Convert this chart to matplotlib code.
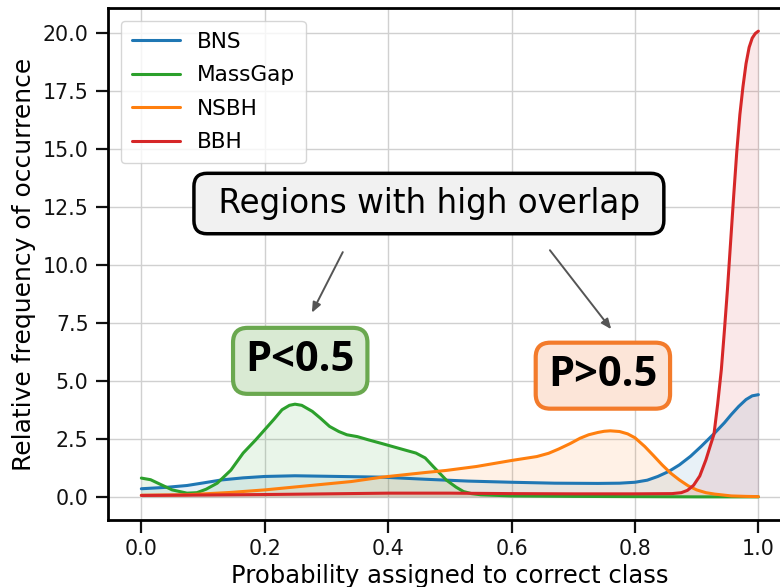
import matplotlib
matplotlib.use("Agg")
import matplotlib.pyplot as plt

# ---- data ----
bns_x = [0.0, 0.04, 0.074, 0.1, 0.13, 0.165, 0.2, 0.249, 0.32, 0.39, 0.46, 0.53, 0.6, 0.67, 0.74, 0.775,
         0.8, 0.82, 0.837, 0.855, 0.872, 0.89, 0.907, 0.929, 0.945, 0.956, 0.968, 0.98, 0.99, 1.0]
bns_y = [0.35, 0.41, 0.49, 0.6, 0.73, 0.82, 0.88, 0.91, 0.88, 0.85, 0.76, 0.68, 0.63, 0.59, 0.58, 0.59,
         0.63, 0.72, 0.88, 1.1, 1.38, 1.75, 2.17, 2.75, 3.2, 3.55, 3.9, 4.2, 4.36, 4.41]

massgap_x = [0.0, 0.015, 0.03, 0.05, 0.074, 0.09, 0.105, 0.123, 0.145, 0.165, 0.185, 0.2, 0.215, 0.228,
             0.24, 0.249, 0.26, 0.277, 0.29, 0.305, 0.32, 0.333, 0.35, 0.368, 0.39, 0.41, 0.43, 0.445,
             0.46, 0.473, 0.485, 0.494, 0.51, 0.522, 0.535, 0.55, 0.6, 0.7, 0.8, 0.9, 1.0]
massgap_y = [0.81, 0.74, 0.55, 0.3, 0.16, 0.18, 0.33, 0.59, 1.15, 1.89, 2.45, 2.9, 3.35, 3.76,
             3.95, 4.0, 3.95, 3.69, 3.4, 3.04, 2.82, 2.68, 2.6, 2.46, 2.3, 2.15, 2.0, 1.89,
             1.68, 1.31, 0.98, 0.73, 0.42, 0.23, 0.14, 0.09, 0.04, 0.02, 0.01, 0.0, 0.0]

nsbh_x = [0.0, 0.074, 0.144, 0.2, 0.27, 0.34, 0.39, 0.46, 0.494, 0.543, 0.6, 0.641, 0.66, 0.676, 0.695,
          0.711, 0.725, 0.74, 0.75, 0.76, 0.775, 0.788, 0.8, 0.816, 0.83, 0.844, 0.858, 0.872, 0.886,
          0.9, 0.915, 0.929, 0.956, 0.98, 1.0]
nsbh_y = [0.07, 0.09, 0.19, 0.3, 0.48, 0.66, 0.85, 1.05, 1.14, 1.31, 1.57, 1.74, 1.88, 2.06, 2.3,
          2.53, 2.68, 2.78, 2.83, 2.85, 2.82, 2.72, 2.55, 2.17, 1.78, 1.38, 1.02, 0.73, 0.48,
          0.3, 0.18, 0.12, 0.04, 0.02, 0.01]

bbh_x = [0.0, 0.1, 0.2, 0.3, 0.4, 0.5, 0.6, 0.7, 0.8, 0.86, 0.875, 0.885, 0.895, 0.905, 0.915, 0.922,
         0.928, 0.934, 0.94, 0.945, 0.95, 0.955, 0.96, 0.965, 0.97, 0.975, 0.98, 0.985, 0.99, 0.995, 1.0]
bbh_y = [0.06, 0.08, 0.1, 0.13, 0.16, 0.16, 0.14, 0.13, 0.13, 0.14, 0.18, 0.28, 0.5, 0.9, 1.6, 2.2,
         2.7, 4.0, 5.5, 7.2, 9.0, 11.0, 13.0, 14.9, 16.5, 17.7, 18.7, 19.4, 19.8, 20.0, 20.1]

series = [("BNS", bns_x, bns_y, "#1f77b4"),
          ("MassGap", massgap_x, massgap_y, "#2ca02c"),
          ("NSBH", nsbh_x, nsbh_y, "#ff7f0e"),
          ("BBH", bbh_x, bbh_y, "#d62728")]

xticks = [0.0, 0.2, 0.4, 0.6, 0.8, 1.0]
yticks = [0.0, 2.5, 5.0, 7.5, 10.0, 12.5, 15.0, 17.5, 20.0]

fig = plt.figure(figsize=(7.8, 5.87), dpi=100)
ax = fig.add_axes([0.1385, 0.1141, 1.015 - 0.1385, 0.9864 - 0.1141])

for name, xs, ys, c in series:
    ax.plot(xs, ys, color=c, lw=2.2, label=name, solid_capstyle="round", solid_joinstyle="round")
    ax.fill_between(xs, ys, 0, color=c, alpha=0.1, lw=0)

ax.set_xlim(-0.054, 1.054)
ax.set_ylim(-1.0, 21.1)
ax.set_xticks(xticks)
ax.set_yticks(yticks)
ax.set_xticklabels([f"{t:.1f}" for t in xticks])
ax.set_yticklabels([f"{t:.1f}" for t in yticks])
ax.tick_params(labelsize=14.8, length=9, width=1.6, colors="#111111", pad=5)
ax.grid(True, color="#d0d0d0", lw=1)
ax.set_axisbelow(True)
for s in ax.spines.values():
    s.set_linewidth(2)
ax.set_xlabel("Probability assigned to correct class", fontsize=17.5, labelpad=3)
ax.set_ylabel("Relative frequency of occurrence", fontsize=18, labelpad=5)

leg = ax.legend(loc="upper left", fontsize=15.6, handlelength=2.2, handletextpad=0.8,
                borderpad=0.5, labelspacing=0.62, framealpha=0.8, edgecolor="#cccccc",
                borderaxespad=0.6)
for l in leg.get_lines():
    l.set_linewidth(2.2)

ax.text(0.466, 12.66, " Regions with high overlap ", fontsize=23.5, family="DejaVu Sans",
        ha="center", va="center",
        bbox=dict(boxstyle="round,pad=0.42,rounding_size=0.4", fc="#f1f1f1", ec="black", lw=2.5))
ax.text(0.2575, 5.87, "P<0.5", fontsize=30, family="Open Sans", fontweight="bold",
        ha="center", va="center",
        bbox=dict(boxstyle="round,pad=0.3,rounding_size=0.35", fc="#d9ead3", ec="#6aa84f", lw=3))
ax.text(0.748, 5.23, "P>0.5", fontsize=30, family="Open Sans", fontweight="bold",
        ha="center", va="center",
        bbox=dict(boxstyle="round,pad=0.3,rounding_size=0.35", fc="#fce5d8", ec="#f37b2b", lw=3))

arrow = dict(arrowstyle="-|>,head_length=0.6,head_width=0.25", color="#555555", lw=1.4)
ax.annotate("", xy=(0.2743, 7.84), xytext=(0.3285, 10.67), arrowprops=arrow)
ax.annotate("", xy=(0.7643, 7.14), xytext=(0.6594, 10.74), arrowprops=arrow)

fig.savefig("out.png", dpi=100)
